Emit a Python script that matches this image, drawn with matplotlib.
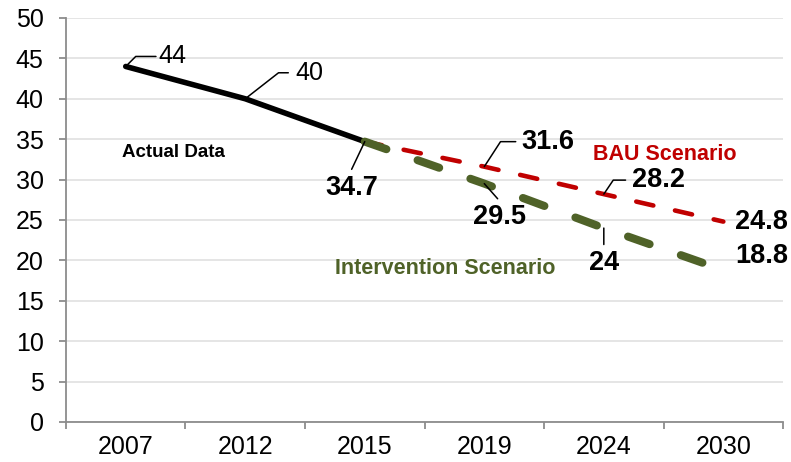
import matplotlib
matplotlib.use("Agg")
import matplotlib.pyplot as plt

plt.rcParams['font.family'] = ['Liberation Sans', 'DejaVu Sans']
plt.rcParams['lines.scale_dashes'] = False

years = ["2007", "2012", "2015", "2019", "2024", "2030"]
actual = [44, 40, 34.7]
bau = [34.7, 31.6, 28.2, 24.8]
intervention = [34.7, 29.5, 24, 18.8]

red = "#C00000"
green = "#4F6228"
grey = "#8C8C8C"

fig = plt.figure(figsize=(7.91, 4.62), dpi=100)
ax = fig.add_axes([0.0834, 0.0866, 0.9066, 0.8745])

xa = list(range(0, 3))
xs = list(range(2, 6))

ax.plot(xa, actual, color="black", lw=4, solid_capstyle="round", zorder=3)
ax.plot(xs, bau, color=red, lw=3.3, dashes=(12.6, 16), dash_capstyle="round", zorder=3)
ax.plot(xs, intervention, color=green, lw=5.8, dashes=(16.5, 23.8), dash_capstyle="round", zorder=4)

# value labels with leader lines
def label(x, y, txt, off, bold=True, size=19.5, leader=None, relpos=(0.5, 0.5), shrink=2):
    kw = dict(xy=(x, y), xytext=off, textcoords="offset pixels",
              fontsize=size, fontweight="bold" if bold else "normal",
              color="black", zorder=6)
    if leader is not None:
        kw["arrowprops"] = dict(arrowstyle="-", color="black", lw=1.1,
                                connectionstyle=leader, relpos=relpos,
                                shrinkA=shrink, shrinkB=0)
    if relpos[0] == 0:
        kw["ha"] = "left"
    else:
        kw["ha"] = "center"
    kw["va"] = "center"
    ax.annotate(txt, **kw)

label(0, actual[0], "44", (33, 10), bold=False, size=18,
      leader="angle,angleA=0,angleB=45,rad=0", relpos=(0, 0.5), shrink=0)
label(1, actual[1], "40", (50, 26), bold=False, size=18,
      leader="angle,angleA=0,angleB=38,rad=0", relpos=(0, 0.5), shrink=3)
label(2, actual[2], "34.7", (-13, -46), leader="arc3", relpos=(0.45, 1))
label(3, bau[1], "31.6", (37, 25),
      leader="angle,angleA=0,angleB=57,rad=0", relpos=(0, 0.5), shrink=2)
label(3, intervention[1], "29.5", (15, -33), leader="arc3", relpos=(0.55, 1))
label(4, bau[2], "28.2", (28, 14),
      leader="angle,angleA=0,angleB=56,rad=0", relpos=(0, 0.5), shrink=2.5)
label(4, intervention[2], "24", (0, -35), leader="arc3", relpos=(0.5, 1))
ax.annotate("24.8", xy=(5, bau[3]), xytext=(12, 0), textcoords="offset pixels",
            fontsize=19.5, fontweight="bold", ha="left", va="center")
ax.annotate("18.8", xy=(5, intervention[3]), xytext=(12, 14), textcoords="offset pixels",
            fontsize=19.5, fontweight="bold", ha="left", va="center")

ax.text(0.078, 0.666, "Actual Data", transform=ax.transAxes, fontsize=13.5,
        fontweight="bold", ha="left", va="center")
ax.text(0.735, 0.661, "BAU Scenario", transform=ax.transAxes, fontsize=15.5,
        fontweight="bold", color=red, ha="left", va="center")
ax.text(0.375, 0.381, "Intervention Scenario", transform=ax.transAxes, fontsize=15.5,
        fontweight="bold", color=green, ha="left", va="center")

ax.set_xlim(-0.5, 5.5)
ax.set_ylim(0, 50)
ax.set_yticks(range(0, 51, 5))
ax.set_xticks(range(len(years)))
ax.set_xticklabels(years)
ax.set_xticks([i - 0.5 for i in range(len(years) + 1)], minor=True)
ax.tick_params(axis="x", which="major", length=0, labelsize=18, pad=9.5)
ax.tick_params(axis="x", which="minor", length=5, width=1.3, color=grey, direction="out")
ax.tick_params(axis="y", length=5, width=1.3, color=grey, labelsize=18, pad=11)

ax.grid(axis="y", color="#E0E0E0", lw=1.2)
ax.set_axisbelow(True)
for s in ["top", "right"]:
    ax.spines[s].set_visible(False)
for s in ["left", "bottom"]:
    ax.spines[s].set_color(grey)
    ax.spines[s].set_linewidth(1.3)

fig.savefig("out.png", dpi=100)
